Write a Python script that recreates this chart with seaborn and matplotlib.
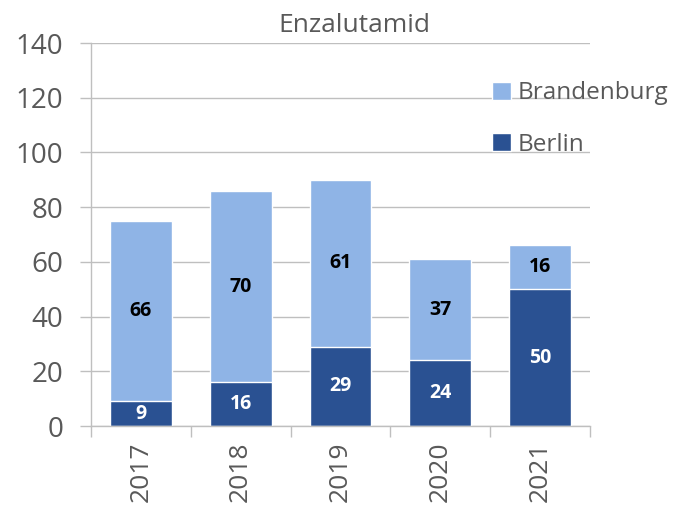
import matplotlib.pyplot as plt
import seaborn as sns
from matplotlib.ticker import FixedLocator

jahre = ['2017', '2018', '2019', '2020', '2021']
berlin = [9, 16, 29, 24, 50]
brandenburg = [66, 70, 61, 37, 16]

farbe_hell = '#8FB4E6'
farbe_dunkel = '#2A5192'
grau = '#BFBFBF'
text_grau = '#595959'

sns.set_theme(style='white')
plt.rcParams['font.family'] = ['Open Sans', 'DejaVu Sans']

gesamt = [b + r for b, r in zip(berlin, brandenburg)]

fig = plt.figure(figsize=(6.79, 5.09), dpi=100)
ax = fig.add_axes([0.134, 0.163, 0.735, 0.7525])

sns.barplot(x=jahre, y=gesamt, color=farbe_hell, width=0.62, saturation=1,
            edgecolor='white', linewidth=1, label='Brandenburg', ax=ax)
sns.barplot(x=jahre, y=berlin, color=farbe_dunkel, width=0.62, saturation=1,
            edgecolor='white', linewidth=1, label='Berlin', ax=ax)

# Werte mittig in jedes Segment
for i, (b, r) in enumerate(zip(berlin, brandenburg)):
    ax.text(i, b + r / 2, str(r), ha='center', va='center', fontsize=14,
            fontweight='bold', color='black')
    ax.text(i, b / 2, str(b), ha='center', va='center', fontsize=14,
            fontweight='bold', color='white')

ax.set_ylim(0, 140)
ax.set_xlim(-0.5, 4.5)
ax.set_yticks(range(0, 141, 20))
ax.yaxis.grid(True, color=grau, linewidth=1)
ax.set_axisbelow(True)
ax.tick_params(axis='y', length=8, width=1, color=grau, labelsize=20,
               labelcolor=text_grau, pad=12, left=True)
ax.set_xticks(range(5))
ax.set_xticklabels(jahre, rotation=90)
ax.xaxis.set_minor_locator(FixedLocator([-0.5, 0.5, 1.5, 2.5, 3.5, 4.5]))
ax.tick_params(axis='x', which='major', length=0, labelsize=19,
               labelcolor=text_grau, pad=11)
ax.tick_params(axis='x', which='minor', length=8, width=1, color=grau, bottom=True)

for s in ['top', 'right']:
    ax.spines[s].set_visible(False)
for s in ['left', 'bottom']:
    ax.spines[s].set_color(grau)
    ax.spines[s].set_linewidth(1)

ax.set_xlabel('')
ax.set_ylabel('')
ax.set_title('Enzalutamid', fontsize=19, color=text_grau, pad=8, x=0.527)

handles, labels = ax.get_legend_handles_labels()
ax.legend(handles, labels, loc='upper left', bbox_to_anchor=(0.785, 0.925),
          frameon=False, fontsize=17.5, handlelength=0.75, handleheight=0.75,
          handletextpad=0.3, labelspacing=1.12, labelcolor=text_grau,
          borderaxespad=0)

fig.savefig('out.png', dpi=100)
